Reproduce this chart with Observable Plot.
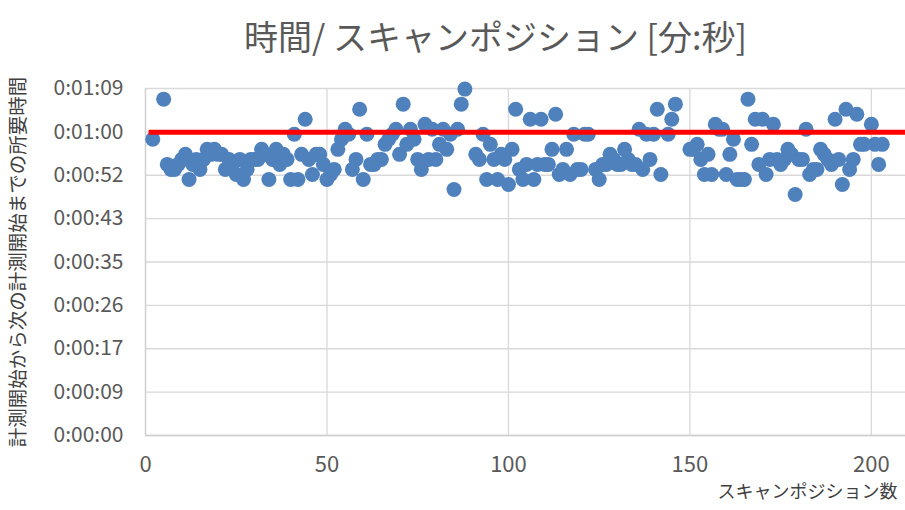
<!DOCTYPE html>
<html><head><meta charset="utf-8">
<script src="https://cdn.jsdelivr.net/npm/d3@7"></script>
<script src="https://cdn.jsdelivr.net/npm/@observablehq/plot@0.6"></script>
<style>body{margin:0;background:#fff}</style>
</head><body><div id="chart"></div>
<script>
const positions = [2,5,6,7,8,9,10,11,12,13,14,15,16,17,18,19,20,21,22,23,24,25,26,27,28,29,30,31,32,33,34,35,36,37,38,39,40,41,42,43,44,45,46,47,48,49,50,51,52,53,54,55,56,57,58,59,60,61,62,63,64,65,66,67,68,69,70,71,72,73,74,75,76,77,78,79,80,81,82,83,84,85,86,87,88,91,92,93,94,95,96,97,98,99,100,101,102,103,104,105,106,107,108,109,110,111,112,113,114,115,116,117,118,119,120,121,122,124,125,126,127,128,129,130,131,132,133,134,135,136,137,138,139,140,141,142,144,145,146,150,151,152,153,154,155,156,157,158,159,160,161,162,163,164,165,166,167,168,169,170,171,172,173,174,175,176,177,178,179,180,181,182,183,184,185,186,187,188,189,190,191,192,193,194,195,196,197,198,200,201,202,203];
const seconds = [59,67,54,53,53,54,55,56,51,54,55,53,55,57,56,57,56,56,53,55,54,52,55,51,53,55,55,55,57,56,51,55,57,54,56,55,51,60,51,56,63,55,52,56,56,54,51,52,53,57,59,61,60,53,55,65,51,60,54,54,55,55,58,59,60,61,56,66,58,61,59,55,53,62,55,61,55,58,61,57,60,49,61,66,69,56,55,60,51,58,55,51,56,55,50,57,65,53,51,54,63,51,54,63,54,54,57,64,52,53,57,52,60,53,53,60,60,53,51,54,54,56,55,54,54,57,55,54,54,61,53,60,55,60,65,52,60,63,66,57,57,58,55,52,56,52,62,61,61,52,56,59,51,51,51,67,58,63,54,63,52,55,62,55,54,55,57,56,48,55,55,61,52,53,53,57,56,55,54,63,55,50,65,53,55,64,58,58,62,58,54,58];
const yTickSeconds = [0, 8.64, 17.28, 25.92, 34.56, 43.2, 51.84, 60.48, 69.12];
const yTickLabels = ["0:00:00","0:00:09","0:00:17","0:00:26","0:00:35","0:00:43","0:00:52","0:01:00","0:01:09"];
const xTicks = [0, 50, 100, 150, 200];
const targetSeconds = 60.4;
const targetRange = [1, 209.4];
const title = "時間/ スキャンポジション [分:秒]";
const yTitle = "計測開始から次の計測開始までの所要時間";
const xTitle = "スキャンポジション数";

const points = positions.map((x, i) => ({x, y: seconds[i]}));
const font = "'Noto Sans CJK JP', 'Noto Sans', sans-serif";
const gray = "#595959";
const chart = Plot.plot({
  width: 905, height: 510,
  marginLeft: 145, marginRight: 0, marginTop: 88, marginBottom: 75,
  style: {fontFamily: font, background: "#fff", color: gray, overflow: "visible"},
  x: {domain: [0, 209.4], label: null},
  y: {domain: [0, 69.12], label: null},
  marks: [
    Plot.gridY(yTickSeconds, {stroke: "#d9d9d9", strokeOpacity: 1, strokeWidth: 1.3}),
    Plot.gridX(xTicks.slice(1), {stroke: "#d9d9d9", strokeOpacity: 1, strokeWidth: 1.3}),
    Plot.ruleX([0], {stroke: "#d0d0d0", strokeWidth: 1.5}),
    Plot.ruleY([0], {stroke: "#d0d0d0", strokeWidth: 1.5}),
    Plot.axisY(yTickSeconds, {tickSize: 0, tickPadding: 22, fontSize: 21, fill: gray, label: null,
      tickFormat: d => yTickLabels[yTickSeconds.indexOf(d)]}),
    Plot.axisX(xTicks, {tickSize: 0, tickPadding: 21, fontSize: 22, fill: gray, label: null, tickFormat: d => String(d)}),
    Plot.dot(points, {x: "x", y: "y", r: 7.5, fill: "#4f81bd"}),
    Plot.ruleY([targetSeconds], {x1: targetRange[0], x2: targetRange[1], stroke: "#ff0000", strokeWidth: 5}),
    Plot.text([title], {frameAnchor: "top", dx: -30, dy: -63, fontSize: 34, fill: gray}),
    Plot.text([yTitle], {frameAnchor: "left", textAnchor: "middle", dx: -127, rotate: -90, fontSize: 19.5, fill: "#404040"}),
    Plot.text([xTitle], {frameAnchor: "bottom-right", textAnchor: "end", dx: -8, dy: 62, fontSize: 18, fill: "#404040"})
  ]
});
document.getElementById("chart").appendChild(chart);
</script>
</body></html>
